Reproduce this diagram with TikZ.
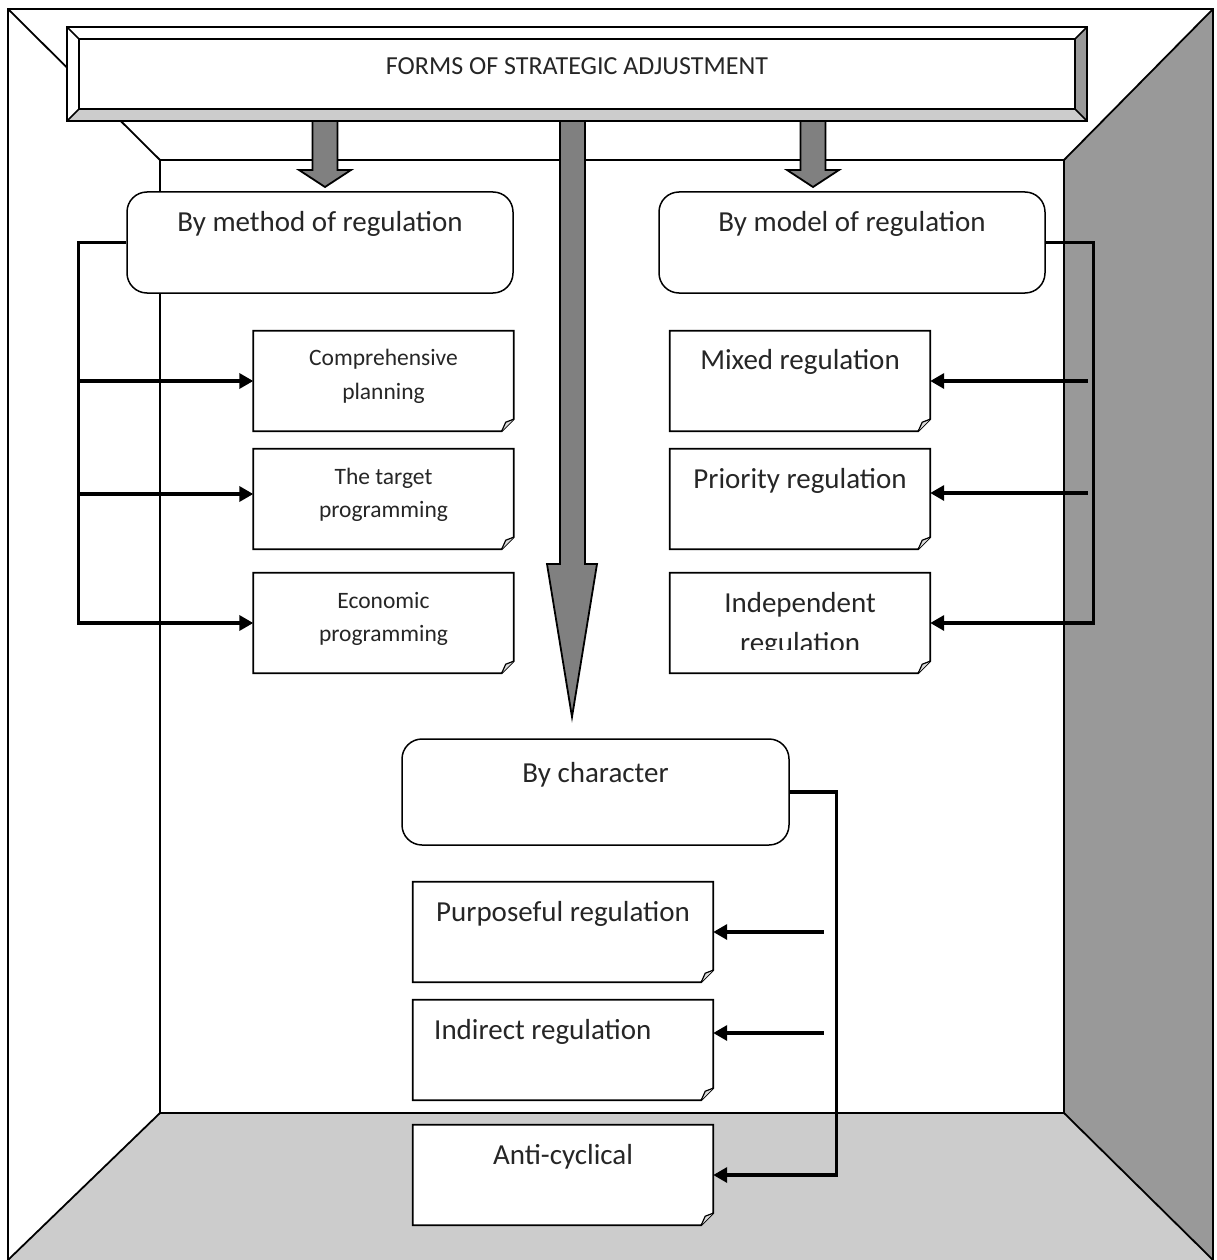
\documentclass[tikz,border=0pt]{standalone}
\usepackage{fontspec}
\setmainfont{Carlito}
\usetikzlibrary{arrows.meta}

\definecolor{wallgray}{HTML}{999999}
\definecolor{floorgray}{HTML}{CCCCCC}
\definecolor{arrowgray}{HTML}{808080}
\definecolor{ink}{HTML}{262626}

\tikzset{
  edge/.style={line width=1.8pt},
  blockarrow/.style={fill=arrowgray, draw=black, line width=1.8pt, line join=miter},
  roundbox/.style={draw, fill=white, line width=1.5pt, rounded corners=20pt, inner sep=0pt},
  notebox/.style={inner sep=0pt},
  link/.style={line width=3.4pt, line join=miter},
  linkarrow/.style={link, -{Triangle[length=14pt,width=15pt]}},
  titletext/.style={font=\fontsize{26}{32}\selectfont, text=ink, anchor=base},
  bigtext/.style={font=\fontsize{29}{40}\selectfont, text=ink, anchor=base},
  smalltext/.style={font=\fontsize{23.5}{34}\selectfont, text=ink, anchor=base},
}

\begin{document}
\begin{tikzpicture}[x=1pt, y=-1pt]
\useasboundingbox (0,0) rectangle (1216,1260);

% room: floor, right wall, edges
\fill[floorgray] (8,1260) -- (160,1113) -- (1064,1113) -- (1213,1260) -- cycle;
\fill[wallgray] (1064,160) -- (1213,9) -- (1213,1260) -- (1064,1113) -- cycle;
\draw[edge] (8,1260) -- (8,9) -- (1213,9) -- (1213,1260);
\draw[edge] (160,160) rectangle (1064,1113);
\draw[edge] (8,9) -- (160,160);
\draw[edge] (1213,9) -- (1064,160);
\draw[edge] (8,1260) -- (160,1113);
\draw[edge] (1213,1260) -- (1064,1113);

% bevelled title banner
\fill[white] (67,27) rectangle (1087,121);
\fill[floorgray] (67,121) -- (79,109) -- (1075,109) -- (1087,121) -- cycle;
\fill[wallgray] (1087,27) -- (1075,39) -- (1075,109) -- (1087,121) -- cycle;
\draw[line width=2pt] (67,27) rectangle (1087,121);
\draw[line width=1.6pt] (67,27) -- (79,39) (1087,27) -- (1075,39)
                        (67,121) -- (79,109) (1087,121) -- (1075,109);
\node[draw, line width=2pt, fill=white, minimum width=996pt, minimum height=70pt,
      inner sep=0pt] (title) at (577,74) {};
\node[titletext] (titletxt) at (577,75) {FORMS OF STRATEGIC ADJUSTMENT};

% block arrows
\draw[blockarrow] (312.5,121) -- (337.5,121) -- (337.5,170) -- (351,170) -- (325,187)
                  -- (299,170) -- (312.5,170) -- cycle;
\draw[blockarrow] (800.5,121) -- (825.5,121) -- (825.5,170) -- (839,170) -- (813,187)
                  -- (787,170) -- (800.5,170) -- cycle;
\draw[blockarrow] (560,121) -- (585,121) -- (585,564) -- (597,564) -- (572,717)
                  -- (547,564) -- (560,564) -- cycle;

% category boxes
\node[roundbox, minimum width=386pt, minimum height=101pt] (method) at (320,242.5) {};
\node[roundbox, minimum width=386pt, minimum height=101pt] (model) at (852,242.5) {};
\node[roundbox, minimum width=387pt, minimum height=106pt] (char) at (595.5,792) {};
\node[bigtext] (methodtxt) at (320,231) {By method of regulation};
\node[bigtext] (modeltxt) at (852,231) {By model of regulation};
\node[bigtext] (chartxt) at (595.5,782) {By character};

% note boxes
\node[notebox, minimum width=260pt, minimum height=100pt] (cp) at (383.5,381) {};
\node[notebox, minimum width=260pt, minimum height=100pt] (tp) at (383.5,499) {};
\node[notebox, minimum width=260pt, minimum height=100pt] (ep) at (383.5,623) {};
\node[notebox, minimum width=260pt, minimum height=100pt] (mr) at (800,381) {};
\node[notebox, minimum width=260pt, minimum height=100pt] (pr) at (800,499) {};
\node[notebox, minimum width=260pt, minimum height=100pt] (ir) at (800,623) {};
\node[notebox, minimum width=300pt, minimum height=100pt] (pu) at (563,932) {};
\node[notebox, minimum width=300pt, minimum height=100pt] (id) at (563,1050) {};
\node[notebox, minimum width=300pt, minimum height=100pt] (ac) at (563,1175) {};

\foreach \n in {cp,tp,ep,mr,pr,ir,pu,id,ac}{
  \draw[line width=1.8pt, fill=white, line join=miter]
    (\n.north west) -- (\n.north east) -- ([yshift=12pt]\n.south east)
    -- ([xshift=-12pt]\n.south east) -- (\n.south west) -- cycle;
  \draw[line width=1.2pt, fill=floorgray!70]
    ([yshift=12pt]\n.south east) -- ([xshift=-8pt,yshift=9pt]\n.south east)
    -- ([xshift=-12pt]\n.south east);
}

% note texts
\node[smalltext] (cptxt1) at (383.5,365) {Comprehensive};
\node[smalltext] (cptxt2) at (383.5,399) {planning};
\node[smalltext] (tptxt1) at (383.5,484) {The target};
\node[smalltext] (tptxt2) at (383.5,517) {programming};
\node[smalltext] (eptxt1) at (383.5,608) {Economic};
\node[smalltext] (eptxt2) at (383.5,641) {programming};
\node[bigtext] (mrtxt) at (800,369) {Mixed regulation};
\node[bigtext] (prtxt) at (800,488) {Priority regulation};
\node[bigtext] (irtxt1) at (800,612) {Independent};
\begin{scope}
  \clip (670,573) rectangle (930,649);
  \node[bigtext] (irtxt2) at (800,652) {regulation};
\end{scope}
\node[bigtext] (putxt) at (563,921) {Purposeful regulation};
\node[bigtext, anchor=base west, inner xsep=0pt] (idtxt) at (434,1039) {Indirect regulation};
\node[bigtext] (actxt) at (563,1164) {Anti-cyclical};

% connectors: method of regulation
\coordinate (lbus) at ([xshift=-48pt]method.west);
\coordinate (tpin) at ([yshift=5pt]tp.west);
\draw[linkarrow] (method.west) -- (lbus) -- (lbus |- ep.west) -- (ep.west);
\draw[linkarrow] (lbus |- cp.west) -- (cp.west);
\draw[linkarrow] (lbus |- tpin) -- (tpin);

% connectors: model of regulation
\coordinate (rbus) at ([xshift=48pt]model.east);
\coordinate (rstub) at ([xshift=-6pt]rbus);
\coordinate (prin) at ([yshift=6pt]pr.east);
\draw[linkarrow] (model.east) -- (rbus) -- (rbus |- ir.east) -- (ir.east);
\draw[linkarrow] (rstub |- mr.east) -- (mr.east);
\draw[linkarrow] (rstub |- prin) -- (prin);

% connectors: by character
\coordinate (cbus) at ([xshift=47pt]char.east);
\coordinate (cstub) at ([xshift=-13pt]cbus);
\coordinate (idin) at ([yshift=17pt]id.east);
\draw[linkarrow] (char.east) -- (cbus) -- (cbus |- ac.east) -- (ac.east);
\draw[linkarrow] (cstub |- pu.east) -- (pu.east);
\draw[linkarrow] (cstub |- idin) -- (idin);
\end{tikzpicture}
\end{document}
